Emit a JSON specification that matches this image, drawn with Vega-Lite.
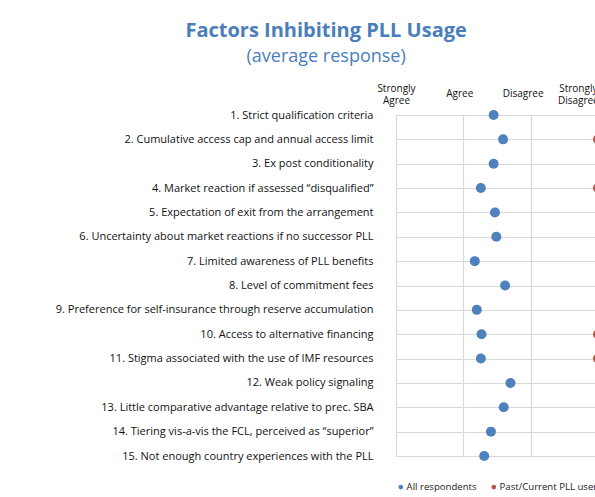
{
  "$schema": "https://vega.github.io/schema/vega-lite/v6.json",
  "width": 202,
  "height": 341,
  "padding": {"left": 55, "top": 21, "right": 0, "bottom": 5},
  "title": {
    "text": "Factors Inhibiting PLL Usage",
    "subtitle": "(average response)",
    "anchor": "middle",
    "frame": "bounds",
    "dx": -3,
    "font": "Open Sans",
    "fontSize": 20,
    "fontWeight": "bold",
    "color": "#4a7ebb",
    "subtitleFont": "Open Sans",
    "subtitleFontSize": 18,
    "subtitleColor": "#4a7ebb",
    "subtitlePadding": 7,
    "offset": 17
  },
  "data": {
    "values": [
      {"factor": "1. Strict qualification criteria", "group": "All respondents", "score": 2.45},
      {"factor": "2. Cumulative access cap and annual access limit", "group": "All respondents", "score": 2.59},
      {"factor": "3. Ex post conditionality", "group": "All respondents", "score": 2.45},
      {"factor": "4. Market reaction if assessed “disqualified”", "group": "All respondents", "score": 2.26},
      {"factor": "5. Expectation of exit from the arrangement", "group": "All respondents", "score": 2.47},
      {"factor": "6. Uncertainty about market reactions if no successor PLL", "group": "All respondents", "score": 2.49},
      {"factor": "7. Limited awareness of PLL benefits", "group": "All respondents", "score": 2.17},
      {"factor": "8. Level of commitment fees", "group": "All respondents", "score": 2.62},
      {"factor": "9. Preference for self-insurance through reserve accumulation", "group": "All respondents", "score": 2.2},
      {"factor": "10. Access to alternative financing", "group": "All respondents", "score": 2.27},
      {"factor": "11. Stigma associated with the use of IMF resources", "group": "All respondents", "score": 2.26},
      {"factor": "12. Weak policy signaling", "group": "All respondents", "score": 2.7},
      {"factor": "13. Little comparative advantage relative to prec. SBA", "group": "All respondents", "score": 2.6},
      {"factor": "14. Tiering vis-a-vis the FCL, perceived as “superior”", "group": "All respondents", "score": 2.41},
      {"factor": "15. Not enough country experiences with the PLL", "group": "All respondents", "score": 2.31},
      {"factor": "2. Cumulative access cap and annual access limit", "group": "Past/Current PLL users", "score": 4},
      {"factor": "4. Market reaction if assessed “disqualified”", "group": "Past/Current PLL users", "score": 4},
      {"factor": "10. Access to alternative financing", "group": "Past/Current PLL users", "score": 4},
      {"factor": "11. Stigma associated with the use of IMF resources", "group": "Past/Current PLL users", "score": 4}
    ]
  },
  "encoding": {
    "y": {
      "field": "factor",
      "type": "nominal",
      "sort": [
        "1. Strict qualification criteria",
        "2. Cumulative access cap and annual access limit",
        "3. Ex post conditionality",
        "4. Market reaction if assessed “disqualified”",
        "5. Expectation of exit from the arrangement",
        "6. Uncertainty about market reactions if no successor PLL",
        "7. Limited awareness of PLL benefits",
        "8. Level of commitment fees",
        "9. Preference for self-insurance through reserve accumulation",
        "10. Access to alternative financing",
        "11. Stigma associated with the use of IMF resources",
        "12. Weak policy signaling",
        "13. Little comparative advantage relative to prec. SBA",
        "14. Tiering vis-a-vis the FCL, perceived as “superior”",
        "15. Not enough country experiences with the PLL"
      ],
      "scale": {"type": "point", "padding": 0},
      "axis": {"title": null, "grid": true, "labelPadding": 23, "labelLimit": 500}
    },
    "color": {
      "field": "group",
      "type": "nominal",
      "scale": {"domain": ["All respondents", "Past/Current PLL users"], "range": ["#4f81bd", "#c0504d"]},
      "legend": {"title": null, "orient": "bottom", "direction": "horizontal", "symbolSize": 22, "labelFontSize": 9.6, "labelFont": "Open Sans", "labelOffset": 1, "columnPadding": 12, "offset": 26, "symbolType": "circle", "labelColor": "#222"}
    }
  },
  "layer": [
    {
      "transform": [{"filter": "datum.group === 'All respondents'"}],
      "mark": {"type": "point", "filled": true, "opacity": 1, "size": 100},
      "encoding": {
        "x": {
          "field": "score",
          "type": "quantitative",
          "scale": {"domain": [1, 4], "nice": false, "zero": false},
          "axis": {
            "orient": "top",
            "title": null,
            "grid": false,
            "values": [1, 1.94, 2.88, 3.7],
            "labelExpr": "datum.value == 1 ? ['Strongly', 'Agree'] : datum.value < 2.5 ? 'Agree' : datum.value < 3.5 ? 'Disagree' : ['Strongly', 'Disagree']",
            "labelBaseline": {"condition": {"test": "datum.value == 1 || datum.value > 3.5", "value": "bottom"}, "value": "middle"},
            "labelAlign": "center",
            "labelPadding": 22,
            "labelFontSize": 10,
            "labelLineHeight": 12,
            "labelFlush": false,
            "labelOverlap": false
          }
        }
      }
    },
    {
      "transform": [{"filter": "datum.group === 'Past/Current PLL users'"}],
      "mark": {"type": "point", "filled": true, "opacity": 1, "size": 100},
      "encoding": {
        "x": {
          "field": "score",
          "type": "quantitative",
          "scale": {"domain": [1, 4], "nice": false, "zero": false},
          "axis": {"orient": "bottom", "title": null, "grid": true, "values": [1, 2, 3, 4], "labels": false}
        }
      }
    }
  ],
  "resolve": {"axis": {"x": "independent"}},
  "config": {
    "view": {"stroke": null},
    "axis": {
      "domain": false,
      "ticks": false,
      "gridColor": "#d9d9d9",
      "gridWidth": 1.2,
      "labelFont": "Open Sans",
      "labelFontSize": 11,
      "labelColor": "#111"
    }
  }
}
